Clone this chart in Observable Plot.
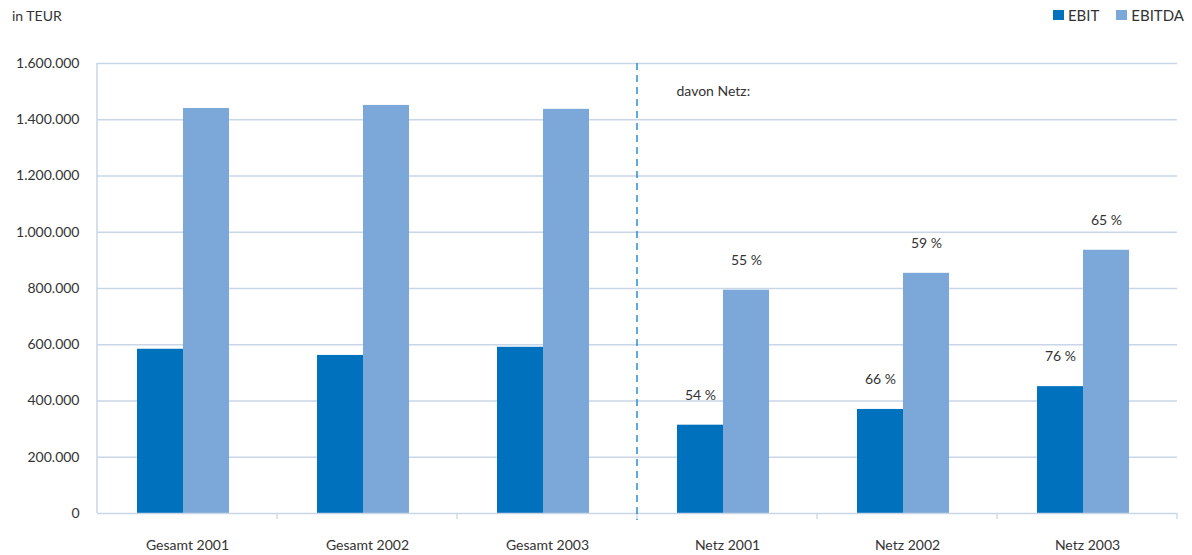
<!DOCTYPE html>
<html>
<head>
<meta charset="utf-8">
<script src="https://cdn.jsdelivr.net/npm/d3@7"></script>
<script src="https://cdn.jsdelivr.net/npm/@observablehq/plot@0.6"></script>
<style>
  body { margin: 0; background: #fff; font-family: Lato, "Open Sans", sans-serif; color: #333; }
  #head { position: relative; width: 1192px; height: 40px; font-size: 14px; }
  #unit { position: absolute; left: 12px; top: 7px; }
  #legend { position: absolute; right: 8px; top: 6px; display: flex; gap: 17px; font-size: 15px; }
  #legend span { display: inline-flex; align-items: center; gap: 4px; }
  #legend i { display: inline-block; width: 11px; height: 10px; }
</style>
</head>
<body>
<div id="head"><div id="unit">in TEUR</div><div id="legend"></div></div>
<div id="chart"></div>
<script>
// Operating result, total company vs. grid business (thousand EUR)
const categories = ["Gesamt 2001", "Gesamt 2002", "Gesamt 2003", "Netz 2001", "Netz 2002", "Netz 2003"];
const ebit = [584000, 562000, 591000, 314000, 370000, 451000];
const ebitda = [1440000, 1451000, 1437000, 794000, 854000, 936000];
// share of the grid business in the total, in percent
const ebitShare = [null, null, null, 54, 66, 76];
const ebitdaShare = [null, null, null, 55, 59, 65];
const seriesNames = ["EBIT", "EBITDA"];
const seriesColors = ["#0071bd", "#7ba8d8"];
const noteLabel = [{category: "Netz 2001", value: 1500000, text: "davon Netz:"}];

const rows = categories.flatMap((c, i) => [
  {category: c, series: "EBIT", value: ebit[i], share: ebitShare[i]},
  {category: c, series: "EBITDA", value: ebitda[i], share: ebitdaShare[i]}
]);

const fmt = d3.formatLocale({decimal: ",", thousands: ".", grouping: [3], currency: ["", " €"]}).format(",d");
const gridColor = "#c9d6e7";
const font = "Lato, 'Open Sans', sans-serif";

// legend
const legend = d3.select("#legend");
seriesNames.forEach((s, i) => {
  const item = legend.append("span");
  item.append("i").style("background", seriesColors[i]);
  item.append("b").style("font-weight", "normal").text(s);
});

const plot = Plot.plot({
  width: 1192,
  height: 515,
  marginTop: 23,
  marginBottom: 42,
  marginLeft: 96,
  marginRight: 15,
  style: {fontFamily: font, fontSize: "14px", color: "#333", background: "#fff"},
  fx: {domain: categories, padding: 0, label: null, axis: "bottom", tickSize: 0, tickPadding: 27},
  x: {domain: seriesNames, paddingInner: 0, paddingOuter: 0.93, align: 0.46, axis: null},
  y: {domain: [0, 1600000], ticks: 8, tickFormat: fmt, tickSize: 0, tickPadding: 18, label: null},
  color: {domain: seriesNames, range: seriesColors},
  marks: [
    Plot.ruleY(d3.range(200000, 1600001, 200000), {stroke: gridColor, strokeWidth: 1.3}),
    Plot.barY(rows, {fx: "category", x: "series", y: "value", fill: "series"}),
    Plot.ruleY([0], {stroke: gridColor, strokeWidth: 1.5}),
    Plot.text(rows.filter(d => d.share != null), {
      fx: "category", x: "series", y: "value",
      text: d => d.share + " %", dy: -30, fill: "#333"
    }),
    Plot.text(noteLabel, {
      fx: "category", y: "value", text: "text",
      frameAnchor: "left", dx: 39, textAnchor: "start", fill: "#333"
    })
  ]
});
document.getElementById("chart").appendChild(plot);

// left axis line, category separator ticks and the dashed divider
const fxS = plot.scale("fx");
const yS = plot.scale("y");
const svg = d3.select(plot);
const y0 = yS.apply(0), yTop = yS.apply(1600000);
const bw = fxS.bandwidth;
const g = svg.append("g");
g.append("line")
  .attr("x1", fxS.apply(categories[0])).attr("x2", fxS.apply(categories[0]))
  .attr("y1", yTop).attr("y2", y0)
  .attr("stroke", gridColor).attr("stroke-width", 1.5);
categories.forEach(c => {
  const xr = fxS.apply(c) + bw;
  g.append("line").attr("x1", xr).attr("x2", xr).attr("y1", y0).attr("y2", y0 + 6)
    .attr("stroke", gridColor).attr("stroke-width", 1.3);
});
const xd = fxS.apply("Netz 2001");
g.append("line").attr("x1", xd).attr("x2", xd).attr("y1", yTop).attr("y2", y0 + 7)
  .attr("stroke", "#2a8fd6").attr("stroke-width", 1.5).attr("stroke-dasharray", "7,5");
</script>
</body>
</html>
